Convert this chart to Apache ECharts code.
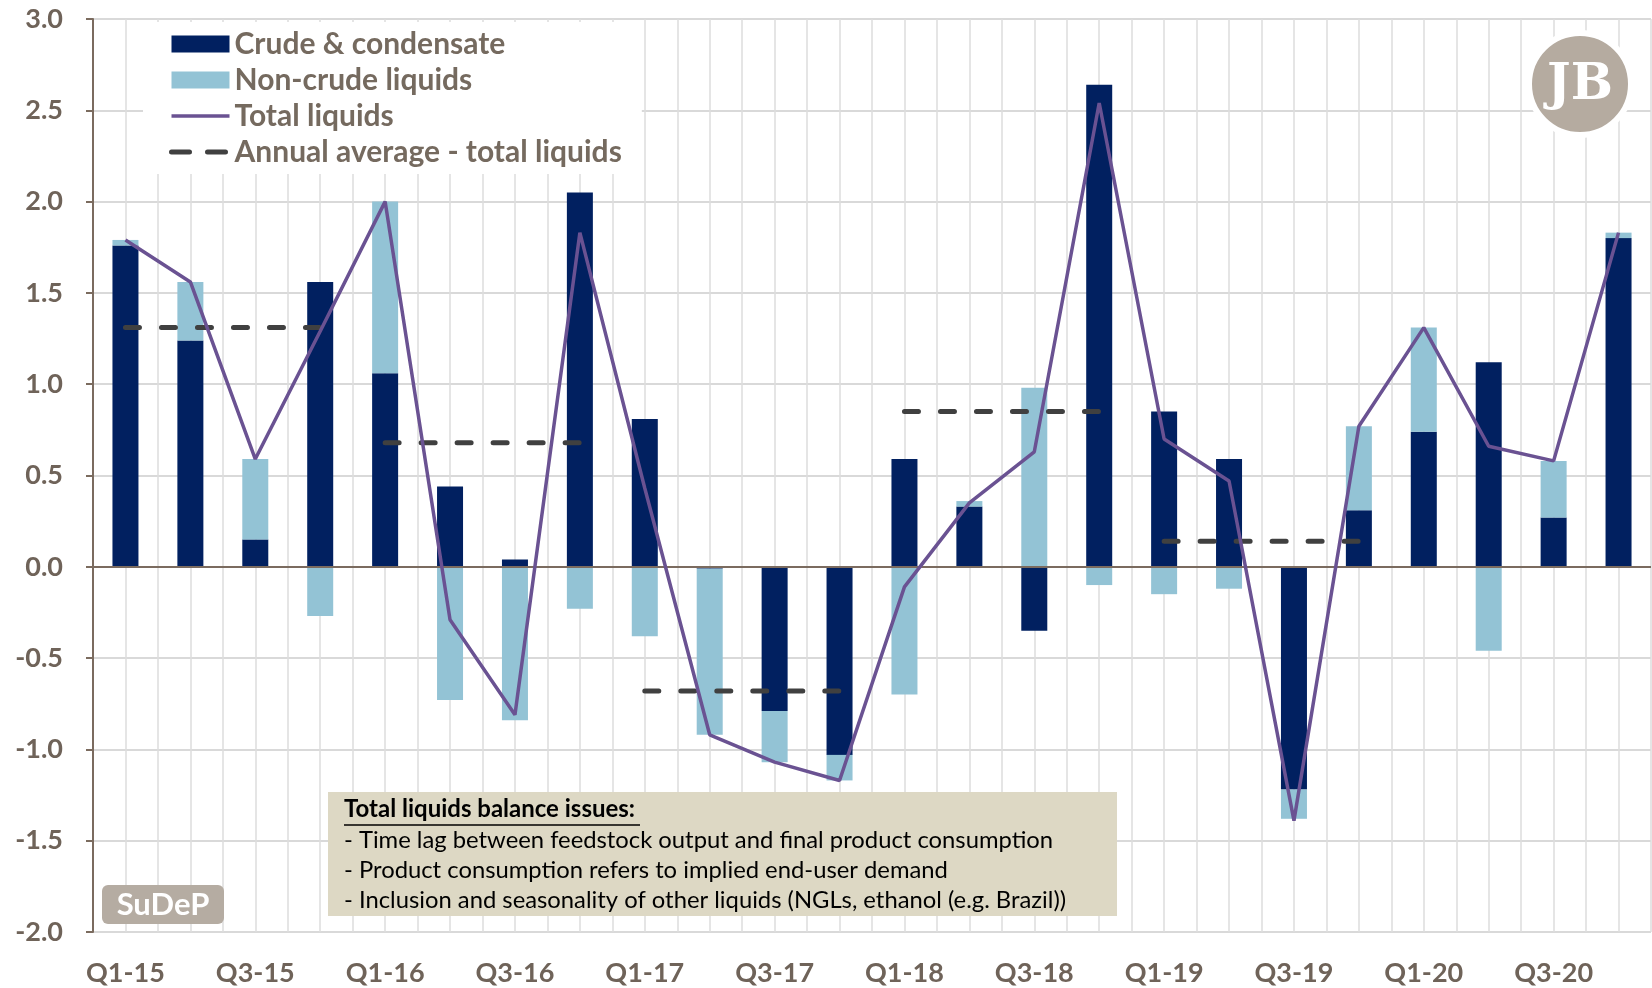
<!DOCTYPE html>
<html>
<head>
<meta charset="utf-8">
<title>Liquids balance</title>
<script src="https://cdn.jsdelivr.net/npm/echarts@6/dist/echarts.min.js"></script>
<style>
html,body{margin:0;padding:0;background:#fff;}
#chart{width:1652px;height:988px;}
</style>
</head>
<body>
<div id="chart"></div>
<script>
// 季度分类
var quarters = ['Q1-15','Q2-15','Q3-15','Q4-15','Q1-16','Q2-16','Q3-16','Q4-16',
                'Q1-17','Q2-17','Q3-17','Q4-17','Q1-18','Q2-18','Q3-18','Q4-18',
                'Q1-19','Q2-19','Q3-19','Q4-19','Q1-20','Q2-20','Q3-20','Q4-20'];
// crude & condensate
var crude = [1.76,1.24,0.15,1.56,1.06,0.44,0.04,2.05,
             0.81,-0.01,-0.79,-1.03,0.59,0.33,-0.35,2.64,
             0.85,0.59,-1.22,0.31,0.74,1.12,0.27,1.80];
// non-crude liquids
var nonCrude = [0.03,0.32,0.44,-0.27,0.94,-0.73,-0.84,-0.23,
                -0.38,-0.91,-0.28,-0.14,-0.70,0.03,0.98,-0.10,
                -0.15,-0.12,-0.16,0.46,0.57,-0.46,0.31,0.03];
// total liquids
var total = [1.79,1.56,0.59,1.29,2.00,-0.29,-0.81,1.83,
             0.43,-0.92,-1.07,-1.17,-0.11,0.35,0.63,2.54,
             0.70,0.47,-1.39,0.77,1.31,0.66,0.58,1.83];
// annual average - total liquids (2015..2019)
var annualAvg = [1.31,0.68,-0.68,0.85,0.14];

var fontName = 'Lato';
var labelColor = '#6f6359';
var axisColor = '#7b6b5f';
var noSymbol = {color: 'rgba(0,0,0,0)', borderWidth: 0};

var myChart = echarts.init(document.getElementById('chart'));

// every year gets its own short dashed series so the years don't join up
var avgSeries = [];
annualAvg.forEach(function(v, k){
	var d = [];
	for (var i = 0; i < quarters.length; i++) {
		d.push(i >= k*4 && i < k*4+4 ? v : null);
	}
	avgSeries.push({
		name: 'Annual average - total liquids',
		type: 'line',
		data: d,
		symbol: 'none',
		z: 4,
		lineStyle: {color: '#404040', width: 5, type: [14, 22], cap: 'round'},
		itemStyle: {color: '#404040'}
	});
});

var option = {
	animation: false,
	grid: {left: 93, right: 1, top: 19, bottom: 56},
	legend: {
		orient: 'vertical',
		left: 143,
		top: 22,
		padding: [6, 20, 6, 26],
		backgroundColor: '#fff',
		itemWidth: 58,
		itemHeight: 17,
		itemGap: 4,
		textStyle: {fontFamily: fontName, fontWeight: 'bold', fontSize: 30, color: '#756a5f', lineHeight: 32},
		data: [
			{name: 'Crude & condensate', icon: 'rect'},
			{name: 'Non-crude liquids', icon: 'rect'},
			{name: 'Total liquids', itemStyle: noSymbol,
			 lineStyle: {color: '#6a5292', width: 3.5}},
			{name: 'Annual average - total liquids', itemStyle: noSymbol,
			 lineStyle: {color: '#404040', width: 5, type: [18, 18], cap: 'round'}}
		]
	},
	xAxis: [{
		type: 'category',
		data: quarters,
		boundaryGap: true,
		axisLine: {show: false, onZero: false},
		axisTick: {show: false},
		axisLabel: {interval: 1, margin: 28, fontFamily: fontName, fontWeight: 'bold', fontSize: 27, color: labelColor},
		splitLine: {show: false}
	}, {
		// 只用来画竖的网格线
		type: 'value',
		min: 0, max: 48, interval: 1,
		position: 'top',
		axisLine: {show: false},
		axisTick: {show: false},
		axisLabel: {show: false},
		splitLine: {show: true, lineStyle: {color: '#dcdcdc', width: 1.5}}
	}],
	yAxis: {
		type: 'value',
		min: -2, max: 3, interval: 0.5,
		axisLine: {show: true, lineStyle: {color: axisColor, width: 2}},
		axisTick: {show: true, length: 7, lineStyle: {color: axisColor, width: 2}},
		axisLabel: {
			margin: 30, fontFamily: fontName, fontWeight: 'bold', fontSize: 27, color: labelColor,
			formatter: function(v){ return v.toFixed(1); }
		},
		splitLine: {lineStyle: {color: '#d9d9d9', width: 2}}
	},
	series: [{
		name: 'Crude & condensate',
		type: 'bar',
		stack: 'liq',
		barWidth: 26,
		data: crude,
		itemStyle: {color: '#012060'}
	}, {
		name: 'Non-crude liquids',
		type: 'bar',
		stack: 'liq',
		barWidth: 26,
		data: nonCrude,
		itemStyle: {color: '#93c3d5'},
		markLine: {
			silent: true,
			symbol: 'none',
			label: {show: false},
			lineStyle: {color: axisColor, width: 2, type: 'solid'},
			data: [{yAxis: 0}]
		}
	}, {
		name: 'Total liquids',
		type: 'line',
		data: total,
		symbol: 'none',
		z: 5,
		lineStyle: {color: '#6a5292', width: 3.5},
		itemStyle: {color: '#6a5292'}
	}].concat(avgSeries),
	graphic: [
		// annotation box
		{type: 'rect', left: 328, top: 792, shape: {width: 789, height: 124}, style: {fill: '#ddd8c4'}, z: 10},
		{type: 'text', left: 344, top: 797, z: 11, style: {text: 'Total liquids balance issues:', fontFamily: fontName, fontWeight: 'bold', fontSize: 24, fill: '#000'}},
		{type: 'line', z: 11, shape: {x1: 344, y1: 825, x2: 640, y2: 825}, style: {stroke: '#000', lineWidth: 1.5}},
		{type: 'text', left: 344, top: 828, z: 11, style: {text: '- Time lag between feedstock output and final product consumption', fontFamily: fontName, fontSize: 23.8, fill: '#000'}},
		{type: 'text', left: 344, top: 858, z: 11, style: {text: '- Product consumption refers to implied end-user demand', fontFamily: fontName, fontSize: 23.8, fill: '#000'}},
		{type: 'text', left: 344, top: 888, z: 11, style: {text: '- Inclusion and seasonality of other liquids (NGLs, ethanol (e.g. Brazil))', fontFamily: fontName, fontSize: 23.8, fill: '#000'}},
		// SuDeP badge
		{type: 'rect', left: 102, top: 885, z: 10, shape: {width: 122, height: 39, r: 6}, style: {fill: '#b5aca2'}},
		{type: 'text', x: 163, y: 905, z: 11, style: {text: 'SuDeP', fontFamily: fontName, fontWeight: 'bold', fontSize: 31, fill: '#fff', align: 'center', verticalAlign: 'middle'}},
		// round logo top right
		{type: 'circle', z: 10, shape: {cx: 1580, cy: 84, r: 51}, style: {fill: '#b5aba0', stroke: '#fff', lineWidth: 6}},
		{type: 'text', x: 1580, y: 86, z: 11, style: {text: 'JB', fontFamily: 'DejaVu Serif', fontWeight: 'bold', fontSize: 50, fill: '#fff', align: 'center', verticalAlign: 'middle'}}
	]
};

myChart.setOption(option);
</script>
</body>
</html>
